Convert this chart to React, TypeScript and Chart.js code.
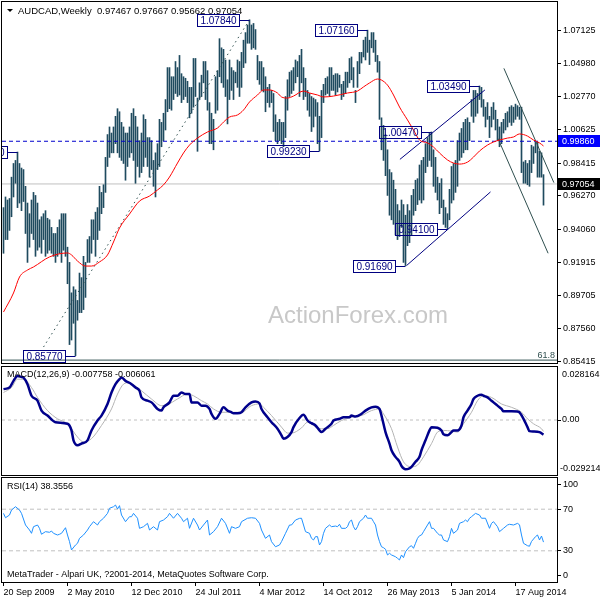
import React, { useEffect, useRef } from "react";
import { Chart, registerables } from "chart.js";

Chart.register(...registerables);

const FONT = "'Liberation Sans', Arial, sans-serif";

// ---------- data ----------
const symbolName = "AUDCAD,Weekly";
const lastBar = [0.97467, 0.97667, 0.95662, 0.97054]; // open, high, low, close

const barHigh = [
  0.955, 0.962, 0.960, 0.961, 0.975, 0.984, 0.986, 0.9915, 0.984, 0.981,
  0.980, 0.969, 0.958, 0.951, 0.960, 0.965, 0.963, 0.958, 0.947, 0.949,
  0.951, 0.953, 0.948, 0.947, 0.942, 0.938, 0.938, 0.942, 0.947, 0.951,
  0.951, 0.951, 0.929, 0.919, 0.899, 0.903, 0.901, 0.894, 0.912, 0.909,
  0.923, 0.919, 0.934, 0.936, 0.947, 0.947, 0.952, 0.955, 0.969, 0.965,
  0.970, 0.988, 1.003, 1.008, 1.004, 1.008, 1.015, 1.020, 1.018, 1.011,
  1.008, 1.004, 1.004, 1.008, 1.017, 1.020, 1.015, 1.008, 0.999, 1.004,
  1.016, 1.013, 1.001, 1.001, 0.999, 0.986, 0.991, 0.997, 1.013, 1.011,
  1.017, 1.026, 1.047, 1.047, 1.041, 1.041, 1.051, 1.047, 1.055, 1.043,
  1.041, 1.040, 1.038, 1.034, 1.034, 1.053, 1.053, 1.027, 1.037, 1.042,
  1.051, 1.051, 1.045, 1.024, 1.017, 1.013, 1.041, 1.045, 1.066, 1.060,
  1.059, 1.052, 1.039, 1.052, 1.047, 1.045, 1.044, 1.052, 1.051, 1.057,
  1.065, 1.070, 1.075, 1.0784, 1.075, 1.076, 1.072, 1.055, 1.051, 1.051,
  1.047, 1.041, 1.034, 1.036, 1.032, 1.030, 1.016, 1.011, 1.013, 1.011,
  1.011, 1.028, 1.039, 1.044, 1.045, 1.047, 1.052, 1.051, 1.055, 1.059,
  1.047, 1.040, 1.032, 1.030, 1.028, 1.027, 1.026, 1.024, 1.015, 1.032,
  1.036, 1.040, 1.041, 1.047, 1.047, 1.042, 1.043, 1.043, 1.042, 1.036,
  1.038, 1.044, 1.044, 1.053, 1.054, 1.047, 1.032, 1.051, 1.057, 1.057,
  1.065, 1.067, 1.0716, 1.065, 1.070, 1.070, 1.065, 1.055, 1.051, 1.014,
  1.009, 1.003, 0.993, 0.980, 0.978, 0.973, 0.967, 0.957, 0.953, 0.960,
  0.957, 0.950, 0.957, 0.953, 0.963, 0.967, 0.973, 0.974, 0.983, 0.986,
  0.988, 0.997, 1.001, 1.004, 1.0047, 0.993, 0.988, 0.975, 0.971, 0.974,
  0.960, 0.955, 0.951, 0.967, 0.982, 0.984, 0.986, 0.999, 1.004, 1.007,
  1.011, 1.013, 1.014, 1.011, 1.026, 1.032, 1.032, 1.030, 1.0349, 1.034,
  1.026, 1.021, 1.024, 1.015, 1.021, 1.024, 1.019, 1.013, 1.008, 1.011,
  1.013, 1.017, 1.018, 1.021, 1.022, 1.021, 1.023, 1.022, 1.021, 1.021,
  0.985, 0.986, 0.984, 0.986, 0.996, 0.995, 0.998, 0.998, 0.992, 0.991,
  0.97667,
];

const barLow = [
  0.925, 0.934, 0.934, 0.940, 0.949, 0.962, 0.971, 0.955, 0.958, 0.953,
  0.959, 0.938, 0.919, 0.929, 0.938, 0.934, 0.923, 0.927, 0.929, 0.925,
  0.934, 0.923, 0.925, 0.927, 0.925, 0.923, 0.919, 0.923, 0.925, 0.919,
  0.927, 0.923, 0.905, 0.865, 0.868, 0.879, 0.8577, 0.881, 0.886, 0.886,
  0.888, 0.896, 0.919, 0.919, 0.925, 0.934, 0.923, 0.934, 0.940, 0.951,
  0.955, 0.965, 0.982, 0.988, 0.991, 0.991, 0.997, 0.991, 0.988, 0.986,
  0.984, 0.973, 0.982, 0.988, 0.991, 0.986, 0.971, 0.982, 0.975, 0.978,
  0.982, 0.988, 0.982, 0.975, 0.980, 0.969, 0.962, 0.980, 0.982, 0.995,
  0.999, 1.006, 1.018, 1.020, 1.019, 1.026, 1.030, 1.028, 1.029, 1.024,
  1.026, 1.028, 1.024, 1.014, 1.017, 1.021, 1.028, 0.992, 1.026, 1.028,
  1.037, 1.026, 1.019, 0.997, 0.997, 0.993, 1.017, 1.019, 1.041, 1.037,
  1.034, 1.028, 1.010, 1.026, 1.032, 1.026, 1.037, 1.034, 1.028, 1.034,
  1.047, 1.050, 1.063, 1.063, 1.059, 1.060, 1.059, 1.039, 1.036, 1.032,
  1.031, 1.018, 1.024, 1.021, 1.024, 1.005, 0.999, 0.997, 0.999, 0.997,
  0.995, 1.001, 1.019, 1.028, 1.030, 1.032, 1.037, 1.041, 1.028, 1.037,
  1.026, 1.028, 1.019, 1.015, 1.005, 1.008, 1.015, 0.997, 0.9923, 1.001,
  1.024, 1.029, 1.030, 1.028, 1.032, 1.032, 1.029, 1.031, 1.034, 1.026,
  1.028, 1.030, 1.034, 1.037, 1.039, 1.034, 1.024, 1.034, 1.043, 1.050,
  1.054, 1.052, 1.057, 1.049, 1.060, 1.057, 1.051, 1.044, 1.013, 0.993,
  0.986, 0.976, 0.963, 0.950, 0.947, 0.944, 0.937, 0.934, 0.936, 0.942,
  0.919, 0.9169, 0.930, 0.932, 0.937, 0.950, 0.953, 0.957, 0.960, 0.958,
  0.960, 0.978, 0.982, 0.986, 0.982, 0.969, 0.965, 0.960, 0.951, 0.955,
  0.944, 0.942, 0.941, 0.947, 0.958, 0.960, 0.965, 0.969, 0.986, 0.988,
  0.991, 0.993, 0.993, 0.999, 1.015, 1.011, 1.015, 1.017, 1.026, 1.021,
  1.015, 1.008, 1.013, 1.001, 1.008, 1.013, 1.006, 0.999, 0.995, 0.997,
  1.004, 1.006, 1.008, 1.011, 1.009, 1.011, 1.013, 1.015, 1.013, 0.978,
  0.971, 0.971, 0.970, 0.969, 0.978, 0.984, 0.991, 0.975, 0.975, 0.975,
  0.95662,
];

// moving average (red), read at sampled weeks
const maWeeks = [
  0, 5, 8, 12, 15, 23, 32, 34, 37, 41, 44, 48, 52, 55, 58, 63, 68, 73, 77, 80,
  83, 87, 90, 93, 97, 102, 107, 110, 113, 117, 120, 123, 127, 130, 133, 137, 139, 142, 145, 150,
  153, 157, 160, 165, 172, 177, 180, 183, 187, 189, 192, 195, 198, 202, 205, 208, 212, 215, 218, 222,
  225, 228, 232, 235, 238, 242, 245, 248, 252, 255, 258, 262, 265, 268, 270,
];
const maValues = [
  0.8864, 0.8989, 0.9094, 0.9140, 0.9160, 0.9226, 0.9252, 0.9239, 0.9199, 0.9166,
  0.9166, 0.9193, 0.9239, 0.9324, 0.9416, 0.9508, 0.9593, 0.9626, 0.9666, 0.9699,
  0.9751, 0.9843, 0.9909, 0.9961, 1.0007, 1.0047, 1.0073, 1.0112, 1.0145, 1.0159,
  1.0191, 1.0244, 1.0290, 1.0323, 1.0323, 1.0303, 1.0277, 1.0270, 1.0283, 1.0316,
  1.0303, 1.0290, 1.0277, 1.0283, 1.0303, 1.0316, 1.0343, 1.0369, 1.0395, 1.0388,
  1.0355, 1.0290, 1.0211, 1.0126, 1.0060, 0.9994, 0.9975, 0.9948, 0.9909, 0.9863,
  0.9843, 0.9836, 0.9849, 0.9882, 0.9922, 0.9961, 0.9981, 0.9994, 1.0007, 1.0014,
  1.0034, 1.0020, 0.9994, 0.9975, 0.9955,
];

// MACD main line
const macdWeeks = [
  0, 3, 5, 7, 9, 10, 12, 14, 17, 19,
  22, 26, 32, 34, 35, 37, 39, 42, 44, 47,
  49, 52, 54, 56, 58, 59, 61, 64, 66, 68,
  69, 72, 74, 77, 79, 80, 83, 85, 87, 89,
  91, 93, 94, 97, 99, 101, 103, 104, 106, 108,
  110, 112, 114, 115, 117, 119, 121, 124, 126, 128,
  129, 132, 134, 137, 139, 140, 142, 144, 145, 148,
  150, 152, 154, 156, 158, 159, 161, 164, 165, 168,
  170, 173, 174, 176, 179, 181, 184, 186, 188, 189,
  191, 193, 194, 196, 198, 199, 201, 203, 204, 206,
  208, 209, 211, 213, 214, 217, 219, 220, 222, 224,
  225, 227, 229, 230, 232, 234, 235, 237, 239, 240,
  242, 244, 245, 247, 249, 250, 254, 257, 258, 260,
  262, 263, 265, 268, 270,
];
const macdValues = [
  0.01642, 0.01726, 0.02079, 0.02342, 0.02289, 0.02253, 0.01905, 0.01289, 0.01026, 0.00500,
  0.00237, -0.00116, -0.00200, -0.00553, -0.01079, -0.01342, -0.01253, -0.01079, -0.00553, -0.00026,
  0.00237, 0.00853, 0.01463, 0.01905, 0.02168, 0.02253, 0.02079, 0.01905, 0.01726, 0.01553,
  0.01200, 0.01026, 0.00937, 0.00589, 0.00500, 0.00674, 0.00937, 0.01289, 0.01289, 0.01463,
  0.01379, 0.01379, 0.00937, 0.00937, 0.00763, 0.00763, 0.00589, 0.00326, 0.00063, 0.00326,
  0.00674, 0.00500, 0.00411, 0.00358, 0.00358, 0.00411, 0.00674, 0.00937, 0.00989, 0.00884,
  0.00589, 0.00147, -0.00116, -0.00463, -0.00816, -0.00989, -0.00905, -0.00642, -0.00379, 0.00105,
  0.00274, -0.00026, -0.00168, -0.00289, -0.00553, -0.00642, -0.00463, -0.00200, -0.00026, 0.00063,
  0.00147, 0.00147, 0.00237, 0.00184, 0.00326, 0.00500, 0.00674, 0.00711, 0.00589, 0.00237,
  -0.00642, -0.01253, -0.01605, -0.01958, -0.02221, -0.02447, -0.02621, -0.02568, -0.02484, -0.02221,
  -0.01958, -0.01605, -0.01079, -0.00553, -0.00379, -0.00411, -0.00553, -0.00763, -0.00816, -0.00642,
  -0.00553, -0.00553, -0.00289, 0.00147, 0.00500, 0.00853, 0.01116, 0.01289, 0.01342, 0.01289,
  0.01200, 0.01026, 0.00937, 0.00763, 0.00589, 0.00463, 0.00463, 0.00447, 0.00411, 0.00063,
  -0.00379, -0.00589, -0.00605, -0.00642, -0.007758,
];

// MACD signal line
const signalWeeks = [
  0, 4, 7, 10, 14, 17, 22, 27, 32, 37,
  40, 44, 49, 54, 57, 60, 63, 65, 69, 74,
  79, 82, 87, 92, 95, 99, 102, 105, 109, 114,
  119, 124, 128, 130, 134, 139, 142, 144, 149, 152,
  155, 159, 162, 165, 169, 174, 179, 184, 188, 190,
  194, 197, 200, 204, 207, 210, 214, 217, 220, 224,
  227, 230, 234, 237, 240, 244, 249, 254, 259, 262,
  265, 269, 270,
];
const signalValues = [
  0.01463, 0.01726, 0.02168, 0.02168, 0.01726, 0.01200, 0.00500, 0.00063, -0.00200, -0.00905,
  -0.01168, -0.00989, -0.00289, 0.00589, 0.01379, 0.01905, 0.01989, 0.01868, 0.01553, 0.01116,
  0.00763, 0.00816, 0.01116, 0.01379, 0.01289, 0.01026, 0.00853, 0.00589, 0.00411, 0.00411,
  0.00411, 0.00763, 0.00853, 0.00674, 0.00237, -0.00379, -0.00695, -0.00695, -0.00421, -0.00116,
  -0.00289, -0.00463, -0.00463, -0.00289, -0.00026, 0.00147, 0.00237, 0.00500, 0.00589, 0.00326,
  -0.00463, -0.01432, -0.02221, -0.02484, -0.02395, -0.01958, -0.01253, -0.00642, -0.00553, -0.00589,
  -0.00642, -0.00200, 0.00411, 0.01026, 0.01289, 0.01200, 0.00853, 0.00674, 0.00411, 0.00063,
  -0.00200, -0.00463, -0.006061,
];

// RSI(14)
const rsiWeeks = [
  0, 1, 3, 4, 6, 8, 9, 11, 13, 14, 15, 17, 18, 19, 21, 23, 24, 25, 27, 28,
  29, 31, 32, 33, 34, 36, 37, 38, 40, 42, 43, 45, 47, 48, 50, 52, 53, 55, 56, 57,
  58, 59, 61, 63, 64, 65, 67, 68, 70, 72, 73, 75, 77, 78, 80, 82, 83, 85, 87, 89,
  90, 92, 93, 95, 97, 98, 100, 102, 103, 105, 107, 109, 111, 113, 114, 116, 118, 119, 122, 124,
  126, 128, 129, 131, 133, 134, 136, 138, 139, 141, 143, 144, 146, 148, 149, 151, 153, 154, 155, 156,
  157, 158, 159, 160, 161, 163, 164, 166, 167, 168, 169, 171, 172, 173, 174, 175, 176, 177, 178, 180,
  181, 182, 184, 185, 186, 187, 188, 189, 190, 191, 192, 193, 194, 196, 197, 198, 199, 200, 201, 203,
  204, 205, 206, 207, 208, 209, 210, 212, 213, 214, 215, 217, 218, 219, 220, 222, 223, 224, 225, 227,
  228, 230, 231, 232, 233, 234, 236, 238, 239, 241, 243, 244, 245, 247, 248, 250, 252, 253, 255, 257,
  258, 259, 260, 262, 263, 264, 266, 267, 268, 269, 270,
];
const rsiValues = [
  66.0, 61.8, 64.4, 69.2, 72.4, 69.2, 66.0, 54.8, 50.0, 46.8, 53.2, 54.8, 51.6, 45.9, 48.4, 47.8, 49.0, 46.8, 45.2, 45.9,
  46.8, 52.2, 45.2, 38.8, 30.8, 35.6, 37.2, 42.0, 45.2, 50.0, 53.2, 58.0, 54.8, 58.0, 61.3, 66.0, 70.9, 72.4, 74.0, 70.2,
  73.4, 64.4, 58.0, 62.8, 62.8, 66.0, 61.3, 51.6, 53.2, 56.4, 50.0, 53.2, 50.0, 58.0, 59.6, 62.8, 66.0, 61.3, 66.0, 61.3,
  58.0, 61.3, 51.6, 61.3, 54.8, 50.0, 54.8, 59.6, 45.2, 48.4, 53.2, 61.3, 56.4, 46.8, 53.2, 51.6, 53.2, 58.0, 61.3, 61.8,
  61.3, 56.4, 50.0, 42.0, 45.2, 38.8, 33.9, 35.6, 38.8, 46.8, 54.8, 54.8, 59.6, 61.2, 61.3, 48.4, 46.8, 42.0, 40.4, 43.6,
  43.6, 35.6, 38.8, 46.8, 51.6, 54.8, 53.2, 53.8, 53.2, 55.5, 51.6, 51.6, 53.2, 58.0, 59.6, 53.2, 50.0, 53.2, 58.0, 61.3,
  64.4, 61.3, 61.3, 58.0, 54.8, 45.2, 38.8, 33.9, 33.0, 31.5, 26.0, 27.6, 26.0, 24.3, 22.8, 21.2, 26.0, 23.4, 29.1, 33.9,
  34.9, 32.4, 37.2, 42.0, 44.5, 45.2, 48.4, 54.8, 58.0, 51.6, 51.6, 46.8, 45.2, 45.2, 40.4, 38.8, 43.6, 51.6, 46.8, 50.0,
  56.4, 58.0, 59.6, 58.0, 61.3, 62.8, 66.0, 64.4, 61.3, 61.3, 51.6, 56.4, 58.0, 53.2, 48.4, 51.6, 54.8, 55.5, 54.8, 56.4,
  55.0, 45.2, 37.2, 34.9, 34.4, 39.0, 43.6, 45.2, 40.4, 44.2, 38.3556,
];

const dateWeeks = [0, 32, 64, 96, 128, 160, 192, 224, 256];
const dateLabels = [
  "20 Sep 2009", "2 May 2010", "12 Dec 2010", "24 Jul 2011", "4 Mar 2012",
  "14 Oct 2012", "26 May 2013", "5 Jan 2014", "17 Aug 2014",
];

const priceTicks = [
  0.85415, 0.8756, 0.89705, 0.91915, 0.9406, 0.9627, 0.98415, 1.00625, 1.0277, 1.0498, 1.07125,
];

// marked swing points (week index, which end of the bar)
const peakWeeks = [7, 36, 123, 158, 182, 201, 214, 222, 238];
const peakSides = ["high", "low", "high", "low", "high", "low", "high", "low", "high"];

// drawn objects
const dashLevel = 0.9986;
const fibLevel = 0.8548;
const fibLineWeeks = [20, 123];
const fibLineValues = [0.8634, 1.0784];
const upTopWeeks = [198.2, 240.7];
const upTopValues = [0.9867, 1.0323];
const upBottomWeeks = [201.5, 243.5];
const upBottomValues = [0.9169, 0.9653];
const downTopWeeks = [250.2, 275.2];
const downTopValues = [1.0465, 0.9714];
const downBottomWeeks = [247.2, 272.3];
const downBottomValues = [1.0005, 0.925];

const macdRange = [-0.029214, 0.028164];
const rsiLevels = [30, 70];

const watermark = "ActionForex.com";
const copyright = "MetaTrader - Alpari UK, ?2001-2014, MetaQuotes Software Corp.";

// ---------- helpers ----------
const X_MIN = -0.75;
const X_MAX = 276.75;
const Y_MIN = 0.8529;
const Y_MAX = 1.0901;

const xy = (ws: number[], vs: number[]) => ws.map((w, k) => ({ x: w, y: vs[k] }));
const hline = (v: number) => [{ x: X_MIN, y: v }, { x: X_MAX, y: v }];
const line = (data: any[], color: string, width: number, extra: any = {}) => ({
  type: "line",
  data,
  borderColor: color,
  borderWidth: width,
  pointRadius: 0,
  fill: false,
  tension: 0,
  clip: 0,
  ...extra,
});

function fixY(scale: any) {
  scale.width = 43;
  scale.paddingTop = 0;
  scale.paddingBottom = 0;
}
function fixX(scale: any) {
  scale.height = 18;
  scale.paddingLeft = 0;
  scale.paddingRight = 0;
}

const hiddenX = { type: "linear", min: X_MIN, max: X_MAX, display: false, offset: false, bounds: "data" };

const rightAxis = (extra: any) => ({
  position: "right",
  bounds: "data",
  afterFit: fixY,
  ticks: { font: { family: FONT, size: 9 }, color: "#000", padding: 2, autoSkip: false },
  grid: { drawOnChartArea: false, drawTicks: true, tickLength: 4, color: "#000" },
  border: { display: false },
  ...extra,
});

function frame(ctx: any, a: any) {
  ctx.save();
  ctx.strokeStyle = "#000";
  ctx.lineWidth = 1;
  ctx.strokeRect(a.left - 0.5, a.top - 0.5, a.right - a.left + 1, a.bottom - a.top + 1);
  ctx.restore();
}

// ---------- plugins ----------
const mainOverlay = {
  id: "mainOverlay",
  beforeDatasetsDraw(chart: any) {
    const { ctx, chartArea: a } = chart;
    ctx.save();
    ctx.font = `24px ${FONT}`;
    ctx.fillStyle = "#c8c8c8";
    ctx.textAlign = "left";
    ctx.textBaseline = "alphabetic";
    ctx.fillText(watermark, a.left + 266, a.top + 321);
    ctx.restore();
  },
  afterDraw(chart: any) {
    const { ctx, chartArea: a, scales } = chart;
    const xs = scales.x;
    const ys = scales.y;
    ctx.save();
    ctx.beginPath();
    ctx.rect(a.left, a.top, a.right - a.left, a.bottom - a.top);
    ctx.clip();
    ctx.lineWidth = 1;
    ctx.strokeStyle = "#000080";
    ctx.fillStyle = "#000080";
    ctx.font = `10px ${FONT}`;
    ctx.textAlign = "center";
    ctx.textBaseline = "middle";
    peakWeeks.forEach((w, k) => {
      const v = peakSides[k] === "high" ? barHigh[w] : barLow[w];
      const bx = Math.floor(xs.getPixelForValue(w));
      const by = Math.round(ys.getPixelForValue(v));
      const right = bx - 10;
      const left = right - 42;
      const top = by - 6;
      ctx.strokeRect(left + 0.5, top + 0.5, 42, 12);
      ctx.beginPath();
      ctx.moveTo(right + 0.5, by + 0.5);
      ctx.lineTo(bx + 0.5, by + 0.5);
      ctx.stroke();
      ctx.fillText(v.toFixed(5), left + 21.5, top + 7);
    });
    ctx.fillStyle = "#2f4f4f";
    ctx.font = `9px ${FONT}`;
    ctx.textAlign = "right";
    ctx.textBaseline = "alphabetic";
    ctx.fillText("61.8", a.right - 2, ys.getPixelForValue(fibLevel) - 2);
    // title
    ctx.fillStyle = "#000";
    ctx.beginPath();
    ctx.moveTo(a.left + 5, a.top + 7);
    ctx.lineTo(a.left + 11, a.top + 7);
    ctx.lineTo(a.left + 8, a.top + 10);
    ctx.closePath();
    ctx.fill();
    ctx.textAlign = "left";
    ctx.textBaseline = "middle";
    ctx.font = `9.5px ${FONT}`;
    ctx.fillText(`${symbolName}  ${lastBar.map((v) => v.toFixed(5)).join(" ")}`, a.left + 16, a.top + 9.5);
    ctx.restore();

    frame(ctx, a);

    ctx.save();
    ctx.font = `9px ${FONT}`;
    ctx.textAlign = "left";
    ctx.textBaseline = "middle";
    const boxes: [number, string][] = [[dashLevel, "#0000ff"], [lastBar[3], "#000000"]];
    boxes.forEach(([v, bg]) => {
      const yy = Math.round(ys.getPixelForValue(v));
      ctx.fillStyle = bg;
      ctx.fillRect(a.right + 1, yy - 6, 43, 12);
      ctx.fillStyle = "#fff";
      ctx.fillText(v.toFixed(5), a.right + 5, yy + 0.5);
    });
    ctx.restore();
  },
};

const macdOverlay = {
  id: "macdOverlay",
  afterDraw(chart: any) {
    const { ctx, chartArea: a, scales } = chart;
    const ys = scales.y;
    frame(ctx, a);
    ctx.save();
    ctx.font = `9px ${FONT}`;
    ctx.fillStyle = "#000";
    ctx.textAlign = "left";
    ctx.textBaseline = "middle";
    const m = macdValues[macdValues.length - 1];
    const s = signalValues[signalValues.length - 1];
    ctx.fillText(`MACD(12,26,9) ${m.toFixed(6)} ${s.toFixed(6)}`, a.left + 5, a.top + 8);
    ctx.fillText(ys.max.toFixed(6), a.right + 5, a.top + 8);
    ctx.fillText(ys.min.toFixed(6), a.right + 3, a.bottom - 6);
    ctx.restore();
  },
};

const rsiOverlay = {
  id: "rsiOverlay",
  afterDraw(chart: any) {
    const { ctx, chartArea: a, scales } = chart;
    const ys = scales.y;
    frame(ctx, a);
    ctx.save();
    ctx.font = `9px ${FONT}`;
    ctx.fillStyle = "#000";
    ctx.strokeStyle = "#000";
    ctx.lineWidth = 1;
    ctx.textAlign = "left";
    ctx.textBaseline = "middle";
    const r = rsiValues[rsiValues.length - 1];
    ctx.fillText(`RSI(14) ${r.toFixed(4)}`, a.left + 5, a.top + 9);
    ctx.fillText(copyright, a.left + 5, a.bottom - 7.5);
    const extremes: [number, number][] = [[ys.max, a.top + 6], [ys.min, a.bottom - 7]];
    extremes.forEach(([v, yy]) => {
      ctx.beginPath();
      ctx.moveTo(a.right, yy + 0.5);
      ctx.lineTo(a.right + 4, yy + 0.5);
      ctx.stroke();
      ctx.fillText(String(v), a.right + 6, yy + 0.5);
    });
    ctx.restore();
  },
};

// ---------- configs ----------
function mainConfig(): any {
  return {
    type: "bar",
    data: {
      datasets: [
        line(xy(maWeeks, maValues), "#ff0000", 1, { cubicInterpolationMode: "monotone" }),
        line(xy(upTopWeeks, upTopValues), "#000080", 1),
        line(xy(upBottomWeeks, upBottomValues), "#000080", 1),
        line(xy(downTopWeeks, downTopValues), "#2f4f4f", 1),
        line(xy(downBottomWeeks, downBottomValues), "#2f4f4f", 1),
        line(xy(fibLineWeeks, fibLineValues), "#2f4f4f", 1, { borderDash: [1.5, 3.5] }),
        line(hline(dashLevel), "#0000cd", 1, { borderDash: [4, 3] }),
        {
          type: "bar",
          data: barHigh.map((h, i) => ({ x: i, y: [barLow[i], h] })),
          backgroundColor: "#1f4b5f",
          borderWidth: 0,
          barThickness: 1,
        },
        line(hline(lastBar[3]), "#c0c0c0", 1),
        line(hline(fibLevel), "#2f4f4f", 1),
      ],
    },
    options: {
      animation: false,
      responsive: false,
      devicePixelRatio: 1,
      events: [],
      layout: { padding: { left: 2, top: 2, right: 0, bottom: 2 } },
      plugins: { legend: { display: false }, tooltip: { enabled: false } },
      scales: {
        x: hiddenX,
        y: rightAxis({
          min: Y_MIN,
          max: Y_MAX,
          afterBuildTicks: (s: any) => {
            s.ticks = priceTicks.map((v) => ({ value: v }));
          },
          ticks: {
            font: { family: FONT, size: 9 },
            color: "#000",
            padding: 2,
            autoSkip: false,
            callback: (v: any) => Number(v).toFixed(5),
          },
        }),
      },
    },
    plugins: [mainOverlay],
  };
}

function macdConfig(): any {
  return {
    type: "line",
    data: {
      datasets: [
        line(xy(macdWeeks, macdValues), "#00008b", 2.5, { cubicInterpolationMode: "monotone" }),
        line(xy(signalWeeks, signalValues), "#b4b4b4", 1, { cubicInterpolationMode: "monotone" }),
        line(hline(0), "#c0c0c0", 1, { borderDash: [3, 3] }),
      ],
    },
    options: {
      animation: false,
      responsive: false,
      devicePixelRatio: 1,
      events: [],
      layout: { padding: { left: 2, top: 1, right: 0, bottom: 2 } },
      plugins: { legend: { display: false }, tooltip: { enabled: false } },
      scales: {
        x: hiddenX,
        y: rightAxis({
          min: macdRange[0],
          max: macdRange[1],
          afterBuildTicks: (s: any) => {
            s.ticks = [{ value: 0 }];
          },
          ticks: {
            font: { family: FONT, size: 9 },
            color: "#000",
            padding: 1,
            autoSkip: false,
            callback: () => "0.00",
          },
        }),
      },
    },
    plugins: [macdOverlay],
  };
}

function rsiConfig(): any {
  return {
    type: "line",
    data: {
      datasets: [
        line(xy(rsiWeeks, rsiValues), "#1e90ff", 1),
        line(hline(rsiLevels[1]), "#c0c0c0", 1, { borderDash: [4, 3] }),
        line(hline(rsiLevels[0]), "#c0c0c0", 1, { borderDash: [4, 3] }),
      ],
    },
    options: {
      animation: false,
      responsive: false,
      devicePixelRatio: 1,
      events: [],
      layout: { padding: { left: 2, top: 1, right: 0, bottom: 0 } },
      plugins: { legend: { display: false }, tooltip: { enabled: false } },
      scales: {
        x: {
          type: "linear",
          min: X_MIN,
          max: X_MAX,
          offset: false,
          bounds: "data",
          position: "bottom",
          afterBuildTicks: (s: any) => {
            s.ticks = dateWeeks.map((v) => ({ value: v }));
          },
          afterFit: fixX,
          ticks: {
            align: "start",
            autoSkip: false,
            maxRotation: 0,
            minRotation: 0,
            padding: 1,
            font: { family: FONT, size: 9 },
            color: "#000",
            callback: (_v: any, i: number) => dateLabels[i],
          },
          grid: { drawOnChartArea: false, drawTicks: true, tickLength: 4, color: "#000" },
          border: { display: false },
        },
        y: rightAxis({
          min: 0,
          max: 100,
          afterBuildTicks: (s: any) => {
            s.ticks = rsiLevels.map((v) => ({ value: v }));
          },
          ticks: {
            font: { family: FONT, size: 9 },
            color: "#000",
            padding: 2,
            autoSkip: false,
            callback: (v: any) => String(v),
          },
        }),
      },
    },
    plugins: [rsiOverlay],
  };
}

export default function App() {
  const mainRef = useRef<HTMLCanvasElement>(null);
  const macdRef = useRef<HTMLCanvasElement>(null);
  const rsiRef = useRef<HTMLCanvasElement>(null);

  useEffect(() => {
    const charts = [
      new Chart(mainRef.current as HTMLCanvasElement, mainConfig()),
      new Chart(macdRef.current as HTMLCanvasElement, macdConfig()),
      new Chart(rsiRef.current as HTMLCanvasElement, rsiConfig()),
    ];
    return () => charts.forEach((c) => c.destroy());
  }, []);

  const abs = (top: number, height: number): any => ({
    position: "absolute",
    left: 0,
    top,
    width: 600,
    height,
    display: "block",
  });

  return (
    <div
      style={{
        position: "fixed",
        left: 0,
        top: 0,
        width: 600,
        height: 600,
        background: "#ffffff",
        overflow: "hidden",
      }}
    >
      <canvas ref={mainRef} width={600} height={365} style={abs(0, 365)} />
      <canvas ref={macdRef} width={600} height={111} style={abs(366, 111)} />
      <canvas ref={rsiRef} width={600} height={123} style={abs(477, 123)} />
    </div>
  );
}
